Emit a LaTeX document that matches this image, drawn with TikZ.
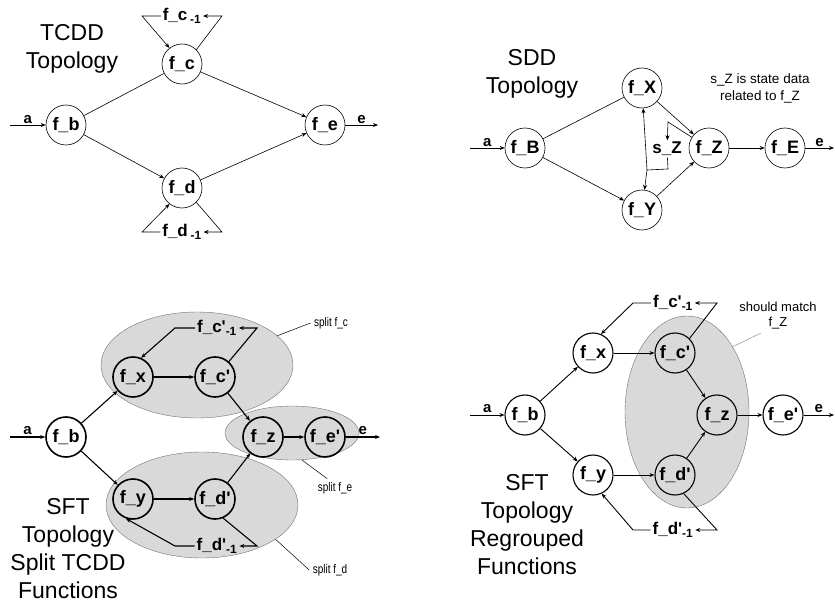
\documentclass[tikz,border=0pt]{standalone}
\usepackage{fontspec}
\setmainfont{Liberation Sans}
\newfontfamily\narrowfont{Liberation Sans}[FakeStretch=0.8]
\usetikzlibrary{arrows.meta, shapes.geometric, positioning, calc}
\newcommand{\pr}{\textquotesingle}

\begin{document}
\begin{tikzpicture}[x=1pt, y=-1pt,
    >={Stealth[length=5pt,width=4pt]},
    fn/.style={circle, draw, minimum size=40pt, inner sep=0pt, font=\fontsize{18}{20}\selectfont\bfseries},
    fnthick/.style={fn, line width=1.6pt},
    fnmid/.style={fn, line width=1.1pt},
    lab/.style={font=\fontsize{17}{19}\selectfont\bfseries, inner sep=1.5pt},
    io/.style={font=\fontsize{15}{17}\selectfont\bfseries, inner sep=1.5pt},
    title/.style={align=center, font=\fontsize{23}{28}\selectfont},
    grp/.style={ellipse, draw=black!55, fill=black!15, inner sep=0pt, line width=0.4pt},
    note/.style={align=center, font=\fontsize{13.5}{17}\selectfont},
    split/.style={font=\narrowfont\fontsize{12.5}{14}\selectfont}]

  \fill[white] (0,0) rectangle (835,604);
  \useasboundingbox (0,0) rectangle (835,604);

  % TCDD topology
  \begin{scope}[line width=0.6pt]
    \node[title] (ttitle) at (72,49) {TCDD\\Topology};
    \node[fn] (tb) at (66,125) {f\_b};
    \node[fn] (tc) at (182,64) {f\_c};
    \node[fn] (td) at (182,188) {f\_d};
    \node[fn] (te) at (325,125) {f\_e};
    \coordinate (tin) at (10,125);
    \coordinate (tout) at (378,125);
    \draw[->] (tin) -- node[io, above] {a} (tb);
    \draw (tb) -- (tc);
    \draw[->] (tb) -- (td);
    \draw[->] (tc) -- (te);
    \draw[->] (td) -- (te);
    \draw[->] (te) -- node[io, above] {e} (tout);

    \node[lab] (tcinv) at (182,16) {f\_c\,\textsubscript{-1}};
    \coordinate (tcl) at (142,16);
    \coordinate (tcr) at (222,16);
    \draw[->] (tc.north east) -- (tcr) -- (tcinv);
    \draw[->] (tcinv) -- (tcl) -- (tc.128);

    \node[lab] (tdinv) at (182,232) {f\_d\,\textsubscript{-1}};
    \coordinate (tdl) at (142,232);
    \coordinate (tdr) at (222,232);
    \draw[->] (td.south east) -- (tdr) -- (tdinv);
    \draw[->] (tdinv) -- (tdl) -- (td.232);
  \end{scope}

  % SDD topology
  \begin{scope}[line width=0.6pt]
    \node[title] (stitle) at (532,74) {SDD\\Topology};
    \node[note] (snote) at (760,88) {s\_Z is state data\\related to f\_Z};
    \node[fn] (sB) at (525,148) {f\_B};
    \node[fn] (sX) at (642,88) {f\_X};
    \node[fn] (sY) at (642,210) {f\_Y};
    \node[fn] (sZ) at (709,148) {f\_Z};
    \node[fn] (sE) at (785,148) {f\_E};
    \node[lab] (sst) at (667,149) {s\_Z};
    \coordinate (sin) at (470,148);
    \coordinate (sout) at (834,148);
    \draw[->] (sin) -- node[io, above] {a} (sB);
    \draw (sB) -- (sX);
    \draw[->] (sB) -- (sY);
    \draw[->] (sX) -- (sZ);
    \draw[->] (sY) -- (sZ);
    \draw[->] (sZ) -- (sE);
    \draw[->] (sE) -- node[io, above] {e} (sout);

    \coordinate (szt) at (668,122);
    \coordinate (szb) at (668,169);
    \coordinate (szj) at (647,170);
    \draw[->] (sZ.148) -- (szt) -- (sst);
    \draw (sst) -- (szb) -- (szj);
    \draw[->] (szj) -- (sX);
    \draw[->] (szj) -- (sY);
  \end{scope}

  % SFT topology, split functions
  \node[grp, minimum width=192pt, minimum height=106pt] (lgc) at (197,365) {};
  \node[grp, minimum width=192pt, minimum height=106pt] (lgd) at (202,505) {};
  \node[grp, minimum width=134pt, minimum height=54pt] (lge) at (292,433) {};
  \node[title] (ltitle) at (68,549) {SFT\\Topology\\Split TCDD\\Functions};
  \begin{scope}[line width=1.1pt]
    \node[fnthick] (lb) at (66,437) {f\_b};
    \node[fnthick] (lx) at (133,377) {f\_x};
    \node[fnthick] (lc) at (215,377) {f\_c\pr};
    \node[fnthick] (ly) at (133,499) {f\_y};
    \node[fnthick] (ld) at (215,499) {f\_d\pr};
    \node[fnthick] (lz) at (263,437) {f\_z};
    \node[fnthick] (le) at (325,437) {f\_e\pr};
    \coordinate (lin) at (10,437);
    \coordinate (lout) at (380,437);
    \draw[->] (lin) -- node[io, above] {a} (lb);
    \draw[->] (lb) -- (lx);
    \draw[->] (lb) -- (ly);
    \draw[->] (lx) -- (lc);
    \draw[->] (ly) -- (ld);
    \draw[->] (lc) -- (lz);
    \draw[->] (ld) -- (lz);
    \draw[->] (lz) -- (le);
    \draw[->] (le) -- node[io, above] {e} (lout);

    \node[lab] (lcinv) at (217,328) {f\_c\pr\textsubscript{-1}};
    \coordinate (lcl) at (175,328);
    \coordinate (lcr) at (257,328);
    \draw[->] (lc.48) -- (lcr) -- (lcinv);
    \draw[->] (lcinv) -- (lcl) -- (lx.67);

    \node[lab] (ldinv) at (217,546) {f\_d\pr\textsubscript{-1}};
    \coordinate (ldl) at (175,546);
    \coordinate (ldr) at (257,546);
    \draw[->] (ld.-67) -- (ldr) -- (ldinv);
    \draw[->] (ldinv) -- (ldl) -- (ly.-110);
  \end{scope}
  \node[split] (lnc) at (331,323) {split f\_c};
  \node[split] (lne) at (335,488) {split f\_e};
  \node[split] (lnd) at (330,570) {split f\_d};
  \draw[line width=0.5pt] (lgc.20) -- (lnc.west);
  \draw[line width=0.5pt] (lge.-70) -- (lne.130);
  \draw[line width=0.5pt] (lgd.-25) -- (lnd.west);

  % SFT topology, regrouped functions
  \node[grp, minimum width=124pt, minimum height=192pt] (rg) at (687,412) {};
  \node[title] (rtitle) at (527,525) {SFT\\Topology\\Regrouped\\Functions};
  \node[note, font=\fontsize{13}{15}\selectfont] (rnote) at (778,316) {should match\\f\_Z};
  \draw[black!50, line width=0.4pt] (rg.55) -- (rnote.-135);
  \begin{scope}[line width=0.9pt]
    \node[fnmid] (rb) at (525,415) {f\_b};
    \node[fnmid] (rx) at (593,353) {f\_x};
    \node[fnmid] (ry) at (593,475) {f\_y};
    \node[fnmid] (rc) at (675,353) {f\_c\pr};
    \node[fnmid] (rd) at (675,475) {f\_d\pr};
    \node[fnmid] (rz) at (717,415) {f\_z};
    \node[fnmid] (re) at (783,415) {f\_e\pr};
    \coordinate (rin) at (470,415);
    \coordinate (rout) at (834,415);
    \draw[->] (rin) -- node[io, above] {a} (rb);
    \draw[->] (rb) -- (rx);
    \draw[->] (rb) -- (ry);
    \draw[->] (rx) -- (rc);
    \draw[->] (ry) -- (rd);
    \draw[->] (rc) -- (rz);
    \draw[->] (rd) -- (rz);
    \draw[->] (rz) -- (re);
    \draw[->] (re) -- node[io, above] {e} (rout);

    \node[lab] (rcinv) at (673,303) {f\_c\pr\textsubscript{-1}};
    \coordinate (rcl) at (633,303);
    \coordinate (rcr) at (717,303);
    \draw[->] (rc.45) -- (rcr) -- (rcinv);
    \draw[->] (rcinv) -- (rcl) -- (rx.67);

    \node[lab] (rdinv) at (673,530) {f\_d\pr\textsubscript{-1}};
    \coordinate (rdl) at (633,530);
    \coordinate (rdr) at (717,530);
    \draw[->] (rd.-65) -- (rdr) -- (rdinv);
    \draw[->] (rdinv) -- (rdl) -- (ry.-65);
  \end{scope}
\end{tikzpicture}
\end{document}
